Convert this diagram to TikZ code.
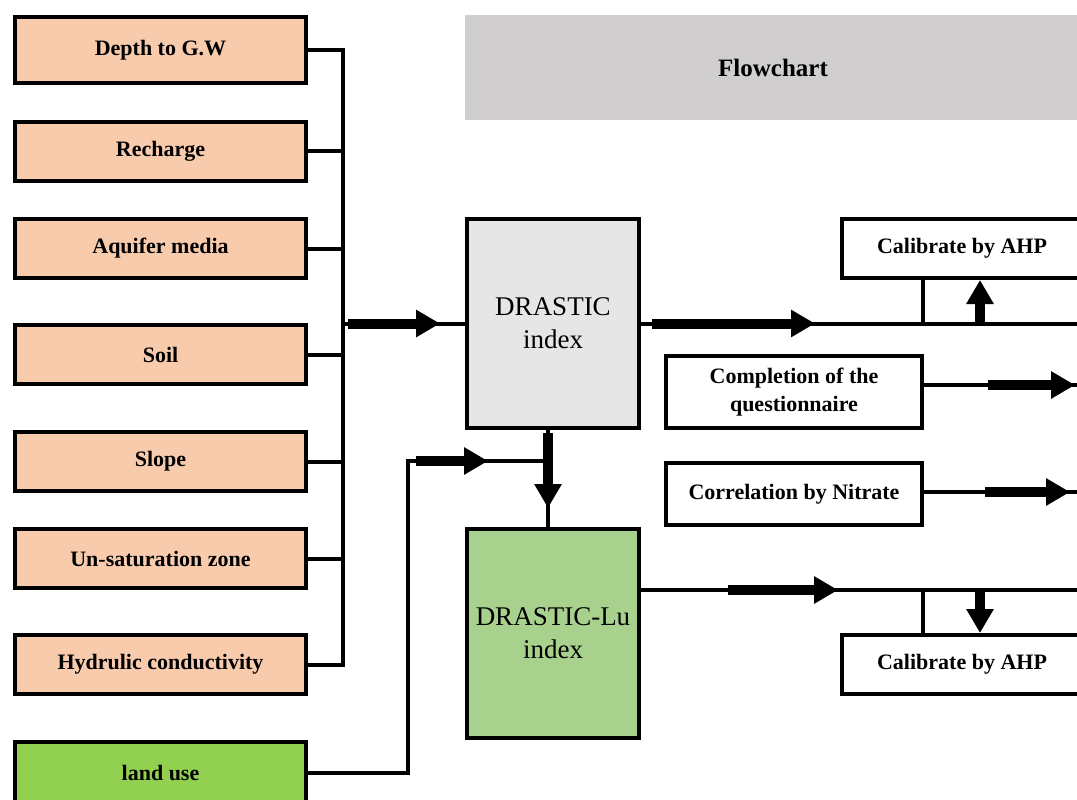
\documentclass[tikz,border=0pt]{standalone}
\usepackage{fontspec}
\setmainfont{Liberation Serif}
\usetikzlibrary{arrows.meta,positioning,calc}
\definecolor{cpeach}{HTML}{F8CBAD}
\definecolor{cland}{HTML}{92D050}
\definecolor{clu}{HTML}{A9D18E}
\definecolor{cidx}{HTML}{E7E6E6}
\definecolor{chead}{HTML}{D0CECE}

\begin{document}
\begin{tikzpicture}[x=1pt,y=-1pt,
  font=\fontsize{22}{28}\selectfont\bfseries,
  box/.style={draw=black,line width=4pt,align=center,inner sep=0pt},
  inbox/.style={box,fill=cpeach,minimum width=291pt,minimum height=59pt},
  idx/.style={box,minimum width=172pt,minimum height=209pt,
              font=\fontsize{27}{33}\selectfont\mdseries},
  side/.style={box,fill=white,minimum width=256pt},
  calbox/.style={box,fill=white,minimum width=240pt,minimum height=59pt},
  conn/.style={line width=4pt},
  fat/.style={line width=10pt,-{Triangle[length=24pt,width=26pt]}}]
  \useasboundingbox (0,0) rectangle (1077,800);
  \clip (0,0) rectangle (1077,800);
  % input layers
  \node[inbox,minimum height=66pt] (depth) at (160.5,50) {Depth to G.W};
  \node[inbox] (rech) at (160.5,151) {Recharge};
  \node[inbox] (aqui) at (160.5,248.5) {Aquifer media};
  \node[inbox] (soil) at (160.5,354.5) {Soil};
  \node[inbox] (slope) at (160.5,461.5) {Slope};
  \node[inbox] (unsat) at (160.5,558.5) {Un-saturation zone};
  \node[inbox] (cond) at (160.5,664.5) {Hydrulic conductivity};
  \node[inbox,fill=cland,minimum height=62pt] (land) at (160.5,773) {land use};
  % title and indices
  \node[box,draw=none,fill=chead,minimum width=616pt,minimum height=105pt,
        font=\fontsize{25}{30}\selectfont\bfseries] (head) at (773,67.5) {Flowchart};
  \node[idx,fill=cidx] (dra) at (553,323.5) {DRASTIC\\index};
  \node[idx,fill=clu] (dralu) at (553,633.5) {DRASTIC-Lu\\index};
  % validation side
  \node[calbox] (ahp1) at (962,248.5) {Calibrate by AHP};
  \node[side,minimum height=72pt] (quest) at (794,392) {Completion of the\\questionnaire};
  \node[side,minimum height=62pt] (nitr) at (794,494) {Correlation by Nitrate};
  \node[calbox] (ahp2) at (962,664.5) {Calibrate by AHP};
  \coordinate (bus) at (343,0);
  \coordinate (rim) at (1077,0);
  \coordinate (elbow) at (408,461);
  \coordinate (dn) at ([xshift=-5pt]dra.south);
  \coordinate (lu) at ([yshift=43.5pt]dralu.east);
  % collector bus
  \draw[conn] (depth.east) -| (cond.east -| bus) -- (cond.east);
  \foreach \n in {rech,aqui,soil,slope,unsat}
    \draw[conn] (\n.east) -- (\n.east -| bus);
  \draw[conn] (dra.west -| bus) -- (dra.west);
  \draw[fat] ([xshift=5pt]dra.west -| bus) -- ([xshift=-25pt]dra.west);
  % land use into DRASTIC-Lu
  \draw[conn] (land.east) -| (elbow) -- (elbow -| dn);
  \draw[fat] ([xshift=8pt]elbow) -- ([xshift=80pt]elbow);
  \draw[conn] (dn) -- (dn |- dralu.north);
  \draw[fat] ([yshift=-3pt]dn) -- ([yshift=-78pt]dn);
  % outputs of DRASTIC
  \draw[conn] (dra.east) -- (dra.east -| rim);
  \draw[fat] ([xshift=11pt]dra.east) -- ([xshift=174pt]dra.east);
  \draw[conn] ([xshift=-39pt]ahp1.south |- dra.east) -- ([xshift=-39pt]ahp1.south);
  \draw[fat] ([xshift=18pt]ahp1.south |- dra.east) -- ([xshift=18pt]ahp1.south);
  \draw[conn] ([yshift=7pt]quest.east) -- ([yshift=7pt]quest.east -| rim);
  \draw[fat] ([xshift=64pt,yshift=7pt]quest.east) -- ([xshift=151pt,yshift=7pt]quest.east);
  \draw[conn] ([yshift=2pt]nitr.east) -- ([yshift=2pt]nitr.east -| rim);
  \draw[fat] ([xshift=61pt,yshift=2pt]nitr.east) -- ([xshift=146pt,yshift=2pt]nitr.east);
  % outputs of DRASTIC-Lu
  \draw[conn] (lu) -- (lu -| rim);
  \draw[fat] ([xshift=87pt]lu) -- ([xshift=197pt]lu);
  \draw[conn] ([xshift=-39pt]ahp2.north |- lu) -- ([xshift=-39pt]ahp2.north);
  \draw[fat] ([xshift=18pt]ahp2.north |- lu) -- ([xshift=18pt]ahp2.north);
\end{tikzpicture}
\end{document}
